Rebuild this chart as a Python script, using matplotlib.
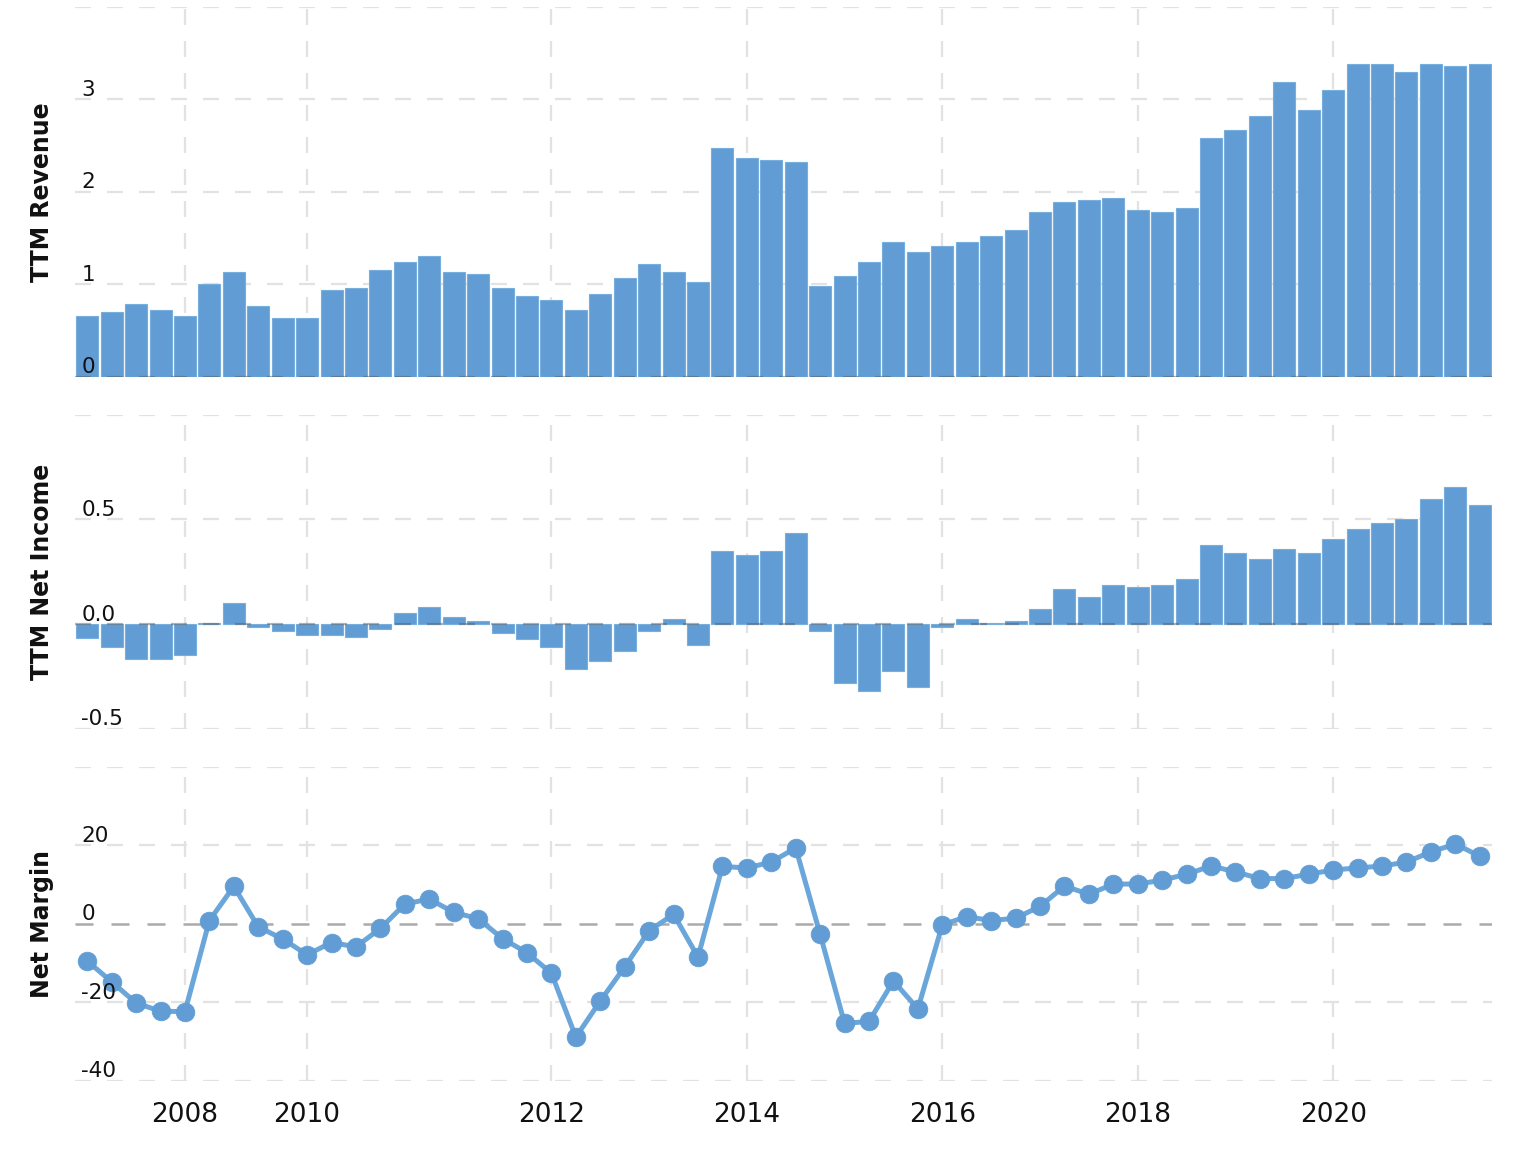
import matplotlib
matplotlib.use("Agg")
import matplotlib.pyplot as plt
import matplotlib.transforms as mtransforms
import numpy as np

# ---------------- data ----------------
revenue = [0.656, 0.70, 0.786, 0.72, 0.656, 1.002, 1.13, 0.764, 0.635, 0.635,
           0.937, 0.959, 1.153, 1.24, 1.305, 1.13, 1.11, 0.959, 0.872, 0.829,
           0.72, 0.894, 1.067, 1.218, 1.132, 1.024, 2.473, 2.365, 2.343, 2.321,
           0.98, 1.089, 1.24, 1.456, 1.348, 1.413, 1.456, 1.521, 1.586, 1.78,
           1.889, 1.91, 1.932, 1.802, 1.78, 1.824, 2.581, 2.667, 2.818, 3.186,
           2.883, 3.10, 3.38, 3.38, 3.294, 3.38, 3.359, 3.38]

net_income = [-0.069, -0.108, -0.166, -0.166, -0.147, 0.004, 0.10, -0.013, -0.032, -0.051,
              -0.051, -0.061, -0.022, 0.053, 0.081, 0.033, 0.014, -0.041, -0.070, -0.108,
              -0.214, -0.175, -0.128, -0.032, 0.024, -0.099, 0.349, 0.330, 0.349, 0.435,
              -0.032, -0.281, -0.319, -0.223, -0.30, -0.013, 0.024, 0.004, 0.014, 0.072,
              0.167, 0.129, 0.187, 0.177, 0.187, 0.215, 0.378, 0.340, 0.311, 0.359,
              0.340, 0.407, 0.455, 0.483, 0.502, 0.598, 0.656, 0.569]

net_margin = [-9.5, -14.8, -20.2, -22.3, -22.4, 0.8, 9.5, -0.8, -3.9, -7.9,
              -4.8, -5.9, -1.2, 5.0, 6.3, 2.9, 1.3, -3.8, -7.4, -12.6,
              -28.9, -19.7, -11.0, -1.8, 2.4, -8.5, 14.6, 14.2, 15.7, 19.3,
              -2.7, -25.4, -24.9, -14.6, -21.7, -0.3, 1.8, 0.8, 1.4, 4.4,
              9.6, 7.5, 10.1, 10.1, 11.1, 12.6, 14.7, 13.2, 11.5, 11.5,
              12.6, 13.7, 14.2, 14.7, 15.7, 18.3, 20.3, 17.2]

year_labels = ["2008", "2010", "2012", "2014", "2016", "2018", "2020"]
year_positions = [4, 9, 19, 27, 35, 43, 51]   # quarter index where each year starts

rev_ticks = [0, 1, 2, 3]
ni_ticks = [-0.5, 0.0, 0.5]
ni_tick_labels = ["-0.5", "0.0", "0.5"]
nm_ticks = [-40, -20, 0, 20]

# ---------------- style ----------------
BAR = "#619dd4"
BAR_EDGE = "#78aedd"
LINE = "#6aa6da"
GRID = "#e2e2e2"
ZERO = "#555555"

plt.rcParams["font.family"] = ["DejaVu Sans"]

W, H = 1514, 1149
fig = plt.figure(figsize=(W / 100, H / 100), dpi=100)

left = 75 / W
width = (1492 - 75) / W

def ax_rect(top_px, bottom_px):
    return [left, 1 - bottom_px / H, width, (bottom_px - top_px) / H]

ax1 = fig.add_axes(ax_rect(6.7, 376.7))
ax2 = fig.add_axes(ax_rect(414.7, 728.7), sharex=ax1)
ax3 = fig.add_axes(ax_rect(766.7, 1080.7), sharex=ax1)

x = np.arange(len(revenue))

dash = (0, (7.2, 7.2))

def style_axis(ax, ylim, grid_vals):
    ax.set_ylim(*ylim)
    ax.set_xlim(-0.5, len(revenue) - 0.5)
    for s in ax.spines.values():
        s.set_visible(False)
    ax.set_yticks([])
    ax.set_xticks(year_positions)
    ax.tick_params(axis="both", length=0)
    for gv in grid_vals:
        ax.axhline(gv, color=GRID, lw=1.6, linestyle=dash, zorder=0)
    for xp in year_positions:
        ax.axvline(xp, color=GRID, lw=1.6, linestyle=dash, zorder=0)

def tick_texts(ax, vals, labels):
    off = mtransforms.ScaledTranslation(0, 3.5 / 100, fig.dpi_scale_trans)
    tr = mtransforms.blended_transform_factory(ax.transAxes, ax.transData) + off
    for v, lab in zip(vals, labels):
        ax.text(0.0045, v, lab, transform=tr, ha="left", va="baseline",
                fontsize=15.5, color="#111111", zorder=5)

# Top: revenue
style_axis(ax1, (0, 4), [1, 2, 3, 4])
ax1.bar(x, revenue, width=0.9, color=BAR, edgecolor=BAR_EDGE, linewidth=0.8, zorder=2)
ax1.axhline(0, color=ZERO, lw=1.6, linestyle=dash, alpha=0.45, zorder=3)
tick_texts(ax1, rev_ticks, [str(v) for v in rev_ticks])

# Middle: net income
style_axis(ax2, (-0.5, 1.0), [-0.5, 0.5, 1.0])
ax2.bar(x, net_income, width=0.9, color=BAR, edgecolor=BAR_EDGE, linewidth=0.8, zorder=2)
ax2.axhline(0, color=ZERO, lw=1.6, linestyle=dash, alpha=0.45, zorder=3)
tick_texts(ax2, ni_ticks, ni_tick_labels)

# Bottom: net margin
style_axis(ax3, (-40, 40), [-40, -20, 20, 40])
ax3.axhline(0, color="#aaaaaa", lw=1.8, linestyle=dash, zorder=1)
ax3.plot(x, net_margin, color=LINE, lw=3.6, zorder=3, solid_joinstyle="round")
ax3.plot(x, net_margin, linestyle="none", marker="o", markersize=13.5,
         markerfacecolor=BAR, markeredgecolor=BAR, markeredgewidth=0.5, zorder=4)
tick_texts(ax3, nm_ticks, [str(v) for v in nm_ticks])

for ax in (ax1, ax2):
    ax.tick_params(labelbottom=False)
ax3.set_xticklabels(year_labels)
ax3.tick_params(axis="x", labelsize=19, pad=15.5, labelcolor="#111111")

# y labels
def ylab(ax, text):
    pos = ax.get_position()
    fig.text(42 / W, pos.y0 + pos.height / 2, text, rotation=90, ha="center",
             va="center", fontsize=17, fontweight="bold", color="#111111")

ylab(ax1, "TTM Revenue")
ylab(ax2, "TTM Net Income")
ylab(ax3, "Net Margin")

fig.savefig("out.png", dpi=100, facecolor="white")
